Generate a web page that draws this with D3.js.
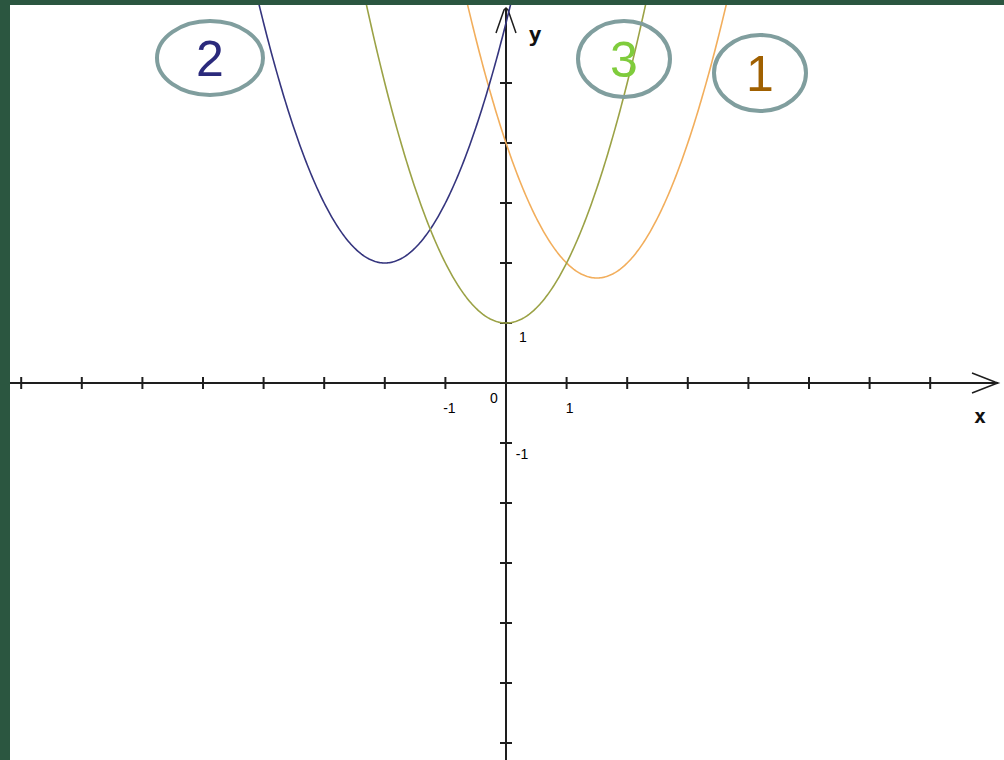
<!DOCTYPE html>
<html>
<head>
<meta charset="utf-8">
<script src="https://cdn.jsdelivr.net/npm/d3@7"></script>
<style>
  body { margin: 0; background: #2b5640; }
  svg { display: block; }
</style>
</head>
<body>
<svg width="1004" height="760"></svg>
<script>
// parabolas y = (x - h)^2 + k
let curveNames = ["1", "2", "3"];
let curveH = [1.5, -2, 0];
let curveK = [1.75, 2, 1];
let curveColors = ["#f2ae5c", "#35357e", "#9ba246"];

// number in circle, and circle centre / radii (pixels)
let bubbleNames = ["2", "3", "1"];
let bubbleColors = ["#2b2a7c", "#7fcc3c", "#a06000"];
let bubbleCx = [210, 624, 760];
let bubbleCy = [58, 59, 73];
let bubbleRx = [53, 46, 46];
let bubbleRy = [37, 38, 38];

let xTicks = [-8, -7, -6, -5, -4, -3, -2, -1, 1, 2, 3, 4, 5, 6, 7];
let yTicks = [-6, -5, -4, -3, -2, -1, 1, 2, 3, 4, 5];

let svg = d3.select("svg"),
  width = +svg.attr("width"),
  height = +svg.attr("height");

// white paper, dark green frame on left and top
svg.append("rect")
  .attr("x", 10).attr("y", 5)
  .attr("width", width - 10).attr("height", height - 5)
  .attr("fill", "#fff");

svg.append("clipPath").attr("id", "paper")
  .append("rect")
  .attr("x", 10).attr("y", 5)
  .attr("width", width - 10).attr("height", height - 5);

let x = d3.scaleLinear().domain([0, 1]).range([506, 566.6]);
let y = d3.scaleLinear().domain([0, 1]).range([383, 323]);

let plot = svg.append("g").attr("clip-path", "url(#paper)");

// axes
let axisColor = "#1e1e1e";
plot.append("line")
  .attr("x1", 10).attr("x2", 998)
  .attr("y1", y(0)).attr("y2", y(0))
  .style("stroke", axisColor).style("stroke-width", 2);
plot.append("line")
  .attr("x1", x(0)).attr("x2", x(0))
  .attr("y1", 8).attr("y2", height)
  .style("stroke", axisColor).style("stroke-width", 2);

plot.selectAll(".xtick")
  .data(xTicks)
  .enter().append("line")
  .attr("class", "xtick")
  .attr("x1", d => x(d)).attr("x2", d => x(d))
  .attr("y1", y(0) - 6).attr("y2", y(0) + 6)
  .style("stroke", axisColor).style("stroke-width", 2);

plot.selectAll(".ytick")
  .data(yTicks)
  .enter().append("line")
  .attr("class", "ytick")
  .attr("x1", x(0) - 6).attr("x2", x(0) + 6)
  .attr("y1", d => y(d)).attr("y2", d => y(d))
  .style("stroke", axisColor).style("stroke-width", 2);

// arrow heads
plot.append("path")
  .attr("d", `M${x(0) - 10},${33} L${x(0) - 2},${10} L${x(0)},${8} L${x(0) + 2},${10} L${x(0) + 10},${33}`)
  .style("fill", "none").style("stroke", axisColor).style("stroke-width", 1.5);
plot.append("path")
  .attr("d", `M${972},${y(0) - 10} L${995},${y(0) - 1} L${998},${y(0)} L${995},${y(0) + 1} L${972},${y(0) + 10}`)
  .style("fill", "none").style("stroke", axisColor).style("stroke-width", 1.5);

// tick labels
let tickLabels = [
  { t: "1", px: x(0) + 17, py: y(1) + 19 },
  { t: "-1", px: x(-1) + 4, py: y(0) + 30 },
  { t: "0", px: x(0) - 12, py: y(0) + 20 },
  { t: "1", px: x(1) + 3, py: y(0) + 30 },
  { t: "-1", px: x(0) + 16, py: y(-1) + 16 }
];
plot.selectAll(".ticklabel")
  .data(tickLabels)
  .enter().append("text")
  .attr("class", "ticklabel")
  .attr("x", d => d.px).attr("y", d => d.py)
  .attr("text-anchor", "middle")
  .style("font-family", "Liberation Sans, Arial, sans-serif")
  .style("font-size", "14px")
  .style("fill", "#000")
  .text(d => d.t);

plot.append("text")
  .attr("x", 535).attr("y", 42)
  .attr("text-anchor", "middle")
  .style("font-family", "DejaVu Sans Mono, monospace")
  .style("font-weight", "bold")
  .style("font-size", "22px")
  .style("fill", "#111")
  .text("y");
plot.append("text")
  .attr("x", 980).attr("y", 423)
  .attr("text-anchor", "middle")
  .style("font-family", "DejaVu Sans Mono, monospace")
  .style("font-weight", "bold")
  .style("font-size", "20px")
  .style("fill", "#111")
  .text("x");

// parabolas
let line = d3.line()
  .x(d => x(d[0]))
  .y(d => y(d[1]));

curveNames.forEach((name, i) => {
  let pts = d3.range(-6, 6.001, 0.02).map(t => [curveH[i] + t, t * t + curveK[i]]);
  plot.append("path")
    .attr("class", "curve")
    .attr("d", line(pts))
    .style("fill", "none")
    .style("stroke", curveColors[i])
    .style("stroke-width", 1.6);
});

// numbered ellipses
bubbleNames.forEach((name, i) => {
  plot.append("ellipse")
    .attr("cx", bubbleCx[i]).attr("cy", bubbleCy[i])
    .attr("rx", bubbleRx[i]).attr("ry", bubbleRy[i])
    .style("fill", "none")
    .style("stroke", "#809e9e")
    .style("stroke-width", 4);
  plot.append("text")
    .attr("x", bubbleCx[i]).attr("y", bubbleCy[i] + 18)
    .attr("text-anchor", "middle")
    .style("font-family", "Liberation Sans, Arial, sans-serif")
    .style("font-size", "50px")
    .style("fill", bubbleColors[i])
    .text(name);
});
</script>
</body>
</html>
